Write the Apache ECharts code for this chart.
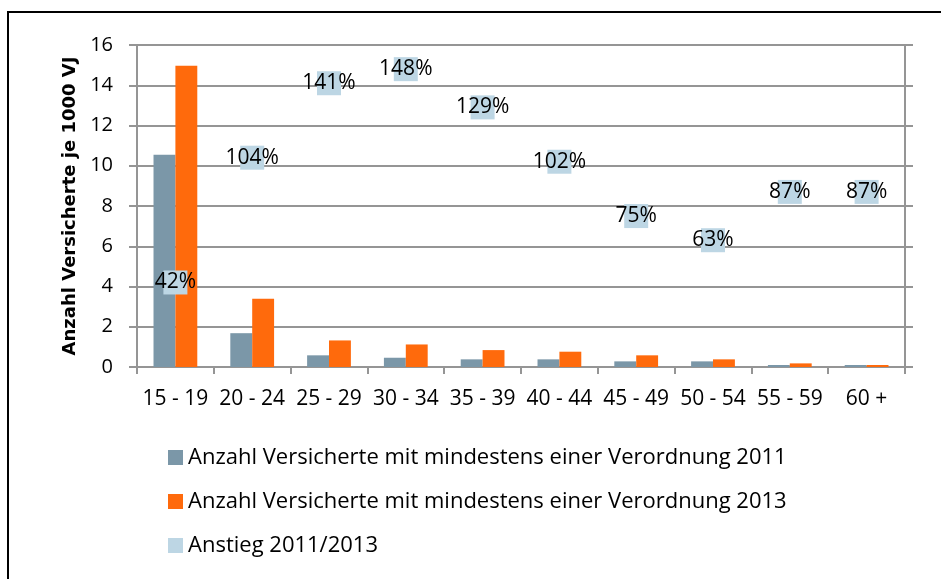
<!DOCTYPE html>
<html>
<head>
<meta charset="utf-8">
<script src="https://cdn.jsdelivr.net/npm/echarts@6/dist/echarts.min.js"></script>
<style>
  html, body { margin: 0; padding: 0; background: #fff; }
  #chart { width: 941px; height: 579px; }
</style>
</head>
<body>
<div id="chart"></div>
<script>
// Altersgruppen
const categories = ['15 - 19', '20 - 24', '25 - 29', '30 - 34', '35 - 39', '40 - 44', '45 - 49', '50 - 54', '55 - 59', '60 +'];
// Anzahl Versicherte je 1000 VJ
const values2011 = [10.55, 1.68, 0.58, 0.46, 0.38, 0.38, 0.28, 0.28, 0.1, 0.1];
const values2013 = [14.97, 3.39, 1.32, 1.12, 0.84, 0.76, 0.58, 0.38, 0.18, 0.1];
// Anstieg 2011/2013 in Prozent
const increasePct = [42, 104, 141, 148, 129, 102, 75, 63, 87, 87];
const yTicks = [0, 2, 4, 6, 8, 10, 12, 14, 16];

const seriesNames = [
  'Anzahl Versicherte mit mindestens einer Verordnung 2011',
  'Anzahl Versicherte mit mindestens einer Verordnung 2013',
  'Anstieg 2011/2013'
];

const gridColor = '#959595';
const textFont = '"Open Sans", sans-serif';

const chart = echarts.init(document.getElementById('chart'), null, { renderer: 'canvas' });

chart.setOption({
  animation: false,
  backgroundColor: '#ffffff',
  grid: { left: 137, top: 45, width: 768, height: 322, containLabel: false },
  legend: {
    orient: 'vertical',
    left: 163,
    top: 441,
    icon: 'rect',
    itemWidth: 15,
    itemHeight: 15,
    itemGap: 21,
    data: seriesNames,
    textStyle: { fontFamily: textFont, fontSize: 22, color: '#000', lineHeight: 23 }
  },
  xAxis: {
    type: 'category',
    data: categories,
    boundaryGap: true,
    axisLine: { show: true, lineStyle: { color: gridColor, width: 2 } },
    axisTick: { show: true, length: 7, lineStyle: { color: gridColor, width: 2 } },
    axisLabel: { fontFamily: textFont, fontSize: 21, color: '#000', margin: 22, interval: 0 }
  },
  yAxis: [
    {
      type: 'value',
      min: yTicks[0],
      max: yTicks[yTicks.length - 1],
      interval: 2,
      name: 'Anzahl Versicherte je 1000 VJ',
      nameLocation: 'middle',
      nameGap: 58,
      nameTextStyle: { fontFamily: '"DejaVu Sans", sans-serif', fontWeight: 'bold', fontSize: 18, color: '#000' },
      axisLine: { show: true, lineStyle: { color: gridColor, width: 2 } },
      axisTick: { show: true, length: 8, lineStyle: { color: gridColor, width: 2 } },
      axisLabel: { fontFamily: textFont, fontSize: 20, color: '#000', margin: 24 },
      splitLine: { show: true, lineStyle: { color: gridColor, width: 2 } }
    },
    {
      type: 'value',
      position: 'right',
      min: 0,
      max: 160,
      interval: 20,
      axisLine: { show: true, lineStyle: { color: gridColor, width: 2 } },
      axisTick: { show: true, length: 8, lineStyle: { color: gridColor, width: 2 } },
      axisLabel: { show: false },
      splitLine: { show: false }
    }
  ],
  series: [
    {
      name: seriesNames[0],
      type: 'bar',
      data: values2011,
      barGap: '0%',
      barCategoryGap: '43%',
      itemStyle: { color: '#7b97a8' }
    },
    {
      name: seriesNames[1],
      type: 'bar',
      data: values2013,
      barGap: '0%',
      barCategoryGap: '43%',
      itemStyle: { color: '#ff6a0c' }
    },
    {
      name: seriesNames[2],
      type: 'scatter',
      yAxisIndex: 1,
      data: increasePct,
      symbol: 'rect',
      symbolSize: 24,
      z: 5,
      itemStyle: { color: '#bdd6e4', opacity: 1 },
      label: {
        show: true,
        position: 'inside',
        formatter: p => p.value + '%',
        fontFamily: textFont,
        fontSize: 21,
        color: '#000'
      }
    }
  ],
  graphic: [
    {
      type: 'polyline',
      shape: { points: [[8, 579], [8, 12], [941, 12]] },
      style: { stroke: '#000', lineWidth: 2, fill: null },
      silent: true
    }
  ]
});
</script>
</body>
</html>
